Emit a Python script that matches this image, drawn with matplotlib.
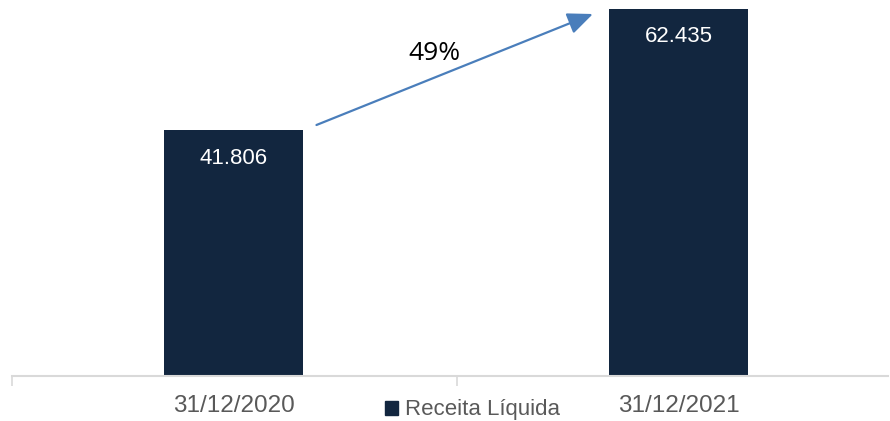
import matplotlib
matplotlib.use("Agg")
import matplotlib.pyplot as plt
from matplotlib.patches import Patch

categories = ["31/12/2020", "31/12/2021"]
values = [41806, 62435]
value_labels = ["41.806", "62.435"]
growth_label = "49%"
series_name = "Receita Líquida"

NAVY = "#12263f"
GRAY = "#595959"
font = ["Liberation Sans", "DejaVu Sans"]

fig = plt.figure(figsize=(8.9, 4.21), dpi=100)
ax = fig.add_axes([12 / 890, 1 - 376 / 421, 876 / 890, 376 / 421])

x = list(range(len(categories)))
bars = ax.bar(x, values, width=0.312, color=NAVY, zorder=2)

top = values[1] * 376 / 367
px = top / 376
ax.set_xlim(-0.498, 1.47)
ax.set_ylim(0, top)

for spine in ["top", "right", "left"]:
    ax.spines[spine].set_visible(False)
ax.spines["bottom"].set_color("#d9d9d9")
ax.spines["bottom"].set_linewidth(1.5)
ax.set_yticks([])
ax.set_xticks(x)
ax.set_xticklabels(categories, fontsize=17.5, color=GRAY, family=font)
ax.tick_params(axis="x", which="major", length=0, pad=14)
ax.set_xticks([-0.498, 0.502], minor=True)
ax.tick_params(axis="x", which="minor", length=7, width=1.2, color="#d9d9d9", direction="out")

for b, lab in zip(bars, value_labels):
    ax.text(b.get_x() + b.get_width() / 2, b.get_height() - 28 * px, lab,
            ha="center", va="center", color="white", fontsize=16, family=font)

# growth arrow between the two bars
ax.annotate("", xy=(0.807, 362 * px), xytext=(0.186, 251 * px),
            arrowprops=dict(arrowstyle="-|>,head_length=0.7,head_width=0.3",
                            color="#4a7ebb", lw=1.6,
                            mutation_scale=22, shrinkA=0, shrinkB=0))
ax.text(0.452, 323 * px, growth_label, ha="center", va="center",
        fontsize=19, color="black", family=["Open Sans", "DejaVu Sans"])

leg = fig.legend(handles=[Patch(color=NAVY)], labels=[series_name],
                 loc="center", bbox_to_anchor=(472 / 890, 1 - 410 / 421),
                 frameon=False, handlelength=0.6, handleheight=0.6, handletextpad=0.3,
                 prop={"family": font, "size": 16})
for t in leg.get_texts():
    t.set_color(GRAY)

fig.savefig("out.png", dpi=100)
